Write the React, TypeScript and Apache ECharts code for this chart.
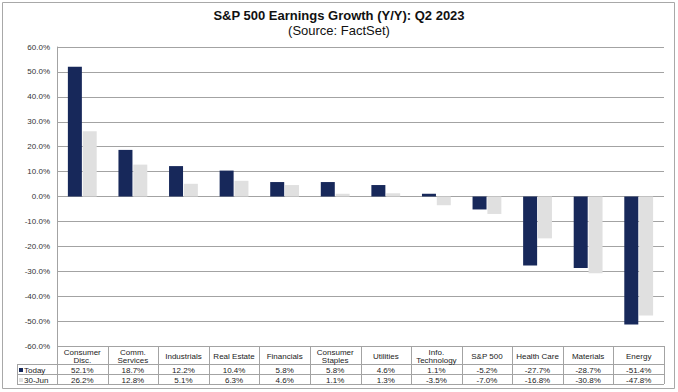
import React, { useEffect, useRef } from "react";
import * as echarts from "echarts";

const categories = [
  "Consumer\nDisc.",
  "Comm.\nServices",
  "Industrials",
  "Real Estate",
  "Financials",
  "Consumer\nStaples",
  "Utilities",
  "Info.\nTechnology",
  "S&P 500",
  "Health Care",
  "Materials",
  "Energy",
];
const todayValues = [52.1, 18.7, 12.2, 10.4, 5.8, 5.8, 4.6, 1.1, -5.2, -27.7, -28.7, -51.4];
const jun30Values = [26.2, 12.8, 5.1, 6.3, 4.6, 1.1, 1.3, -3.5, -7.0, -16.8, -30.8, -47.8];
const seriesNames = ["Today", "30-Jun"];
const seriesColors = ["#17285a", "#e0e0e0"];

const FONT = "'Liberation Sans', Arial, sans-serif";
const W = 678;
const H = 392;
const GRID_LEFT = 57;
const GRID_RIGHT_X = 664;
const GRID_TOP = 47;
const GRID_BOTTOM_Y = 346;
const ROW1_Y = 364;
const ROW2_Y = 374;
const ROW3_Y = 384;
const LEGEND_X = 17;
const LINE_COLOR = "#a3a3a3";

const fmt = (v: number) => v.toFixed(1) + "%";

export default function App() {
  const ref = useRef<HTMLDivElement>(null);
  useEffect(() => {
    if (!ref.current) return;
    const chart = echarts.init(ref.current, null, { renderer: "svg" });
    const n = categories.length;
    const cellW = (GRID_RIGHT_X - GRID_LEFT) / n;
    const graphics: any[] = [];
    const line = (x1: number, y1: number, x2: number, y2: number) => ({
      type: "line",
      shape: { x1, y1, x2, y2 },
      style: { stroke: LINE_COLOR, lineWidth: 1 },
      silent: true,
    });
    graphics.push({
      type: "rect",
      shape: { x: 2.5, y: 2.5, width: 672, height: 386 },
      style: { fill: "none", stroke: "#a8a8a8", lineWidth: 1 },
      silent: true,
    });
    graphics.push(line(GRID_LEFT, GRID_BOTTOM_Y + 0.5, GRID_RIGHT_X, GRID_BOTTOM_Y + 0.5));
    graphics.push(line(LEGEND_X, ROW1_Y + 0.5, GRID_RIGHT_X, ROW1_Y + 0.5));
    graphics.push(line(LEGEND_X, ROW2_Y + 0.5, GRID_RIGHT_X, ROW2_Y + 0.5));
    graphics.push(line(LEGEND_X, ROW3_Y + 0.5, GRID_RIGHT_X, ROW3_Y + 0.5));
    graphics.push(line(LEGEND_X + 0.5, ROW1_Y, LEGEND_X + 0.5, ROW3_Y));
    for (let i = 0; i <= n; i++) {
      const x = Math.round(GRID_LEFT + i * cellW) + 0.5;
      graphics.push(line(x, GRID_BOTTOM_Y, x, ROW3_Y));
    }
    const txt = (x: number, y: number, text: string, align = "center") => ({
      type: "text",
      x,
      y,
      style: {
        text,
        fontSize: 8,
        fontFamily: FONT,
        fill: "#222",
        align,
        verticalAlign: "middle",
        lineHeight: 8,
      },
      silent: true,
    });
    for (let i = 0; i < n; i++) {
      const cx = GRID_LEFT + (i + 0.5) * cellW;
      graphics.push(txt(cx, (GRID_BOTTOM_Y + ROW1_Y) / 2 + 1, categories[i]));
      graphics.push(txt(cx, (ROW1_Y + ROW2_Y) / 2 + 1, fmt(todayValues[i])));
      graphics.push(txt(cx, (ROW2_Y + ROW3_Y) / 2 + 1, fmt(jun30Values[i])));
    }
    const rowsY = [(ROW1_Y + ROW2_Y) / 2 + 1, (ROW2_Y + ROW3_Y) / 2 + 1];
    seriesNames.forEach((name, k) => {
      graphics.push({
        type: "rect",
        shape: { x: LEGEND_X + 2, y: rowsY[k] - 2, width: 4, height: 4 },
        style: { fill: seriesColors[k] },
        silent: true,
      });
      graphics.push(txt(LEGEND_X + 7, rowsY[k], name, "left"));
    });

    chart.setOption({
      animation: false,
      backgroundColor: "#ffffff",
      title: {
        text: "S&P 500 Earnings Growth (Y/Y): Q2 2023",
        subtext: "(Source: FactSet)",
        left: "center",
        top: 9,
        padding: 0,
        itemGap: 2,
        textStyle: { fontFamily: FONT, fontSize: 13, fontWeight: "bold", color: "#111" },
        subtextStyle: { fontFamily: FONT, fontSize: 13, color: "#111" },
      },
      grid: {
        left: GRID_LEFT,
        right: W - GRID_RIGHT_X,
        top: GRID_TOP,
        bottom: H - GRID_BOTTOM_Y,
        containLabel: false,
      },
      xAxis: {
        type: "category",
        data: categories,
        axisLine: { show: false },
        axisTick: { show: false },
        axisLabel: { show: false },
        splitLine: { show: false },
      },
      yAxis: {
        type: "value",
        min: -60,
        max: 60,
        interval: 10,
        axisLine: { show: true, lineStyle: { color: LINE_COLOR } },
        axisTick: { show: false },
        splitLine: { show: true, lineStyle: { color: LINE_COLOR, width: 1 } },
        axisLabel: {
          formatter: (v: number) => fmt(v),
          fontSize: 8,
          fontFamily: FONT,
          color: "#333",
          margin: 7,
        },
      },
      series: [
        {
          name: seriesNames[0],
          type: "bar",
          data: todayValues,
          itemStyle: { color: seriesColors[0] },
          barGap: "6%",
          barCategoryGap: "43%",
        },
        {
          name: seriesNames[1],
          type: "bar",
          data: jun30Values,
          itemStyle: { color: seriesColors[1] },
          barGap: "6%",
          barCategoryGap: "43%",
        },
      ],
      graphic: graphics,
    });
    return () => chart.dispose();
  }, []);
  return (
    <div
      ref={ref}
      style={{ position: "fixed", left: 0, top: 0, width: W, height: H }}
    />
  );
}
